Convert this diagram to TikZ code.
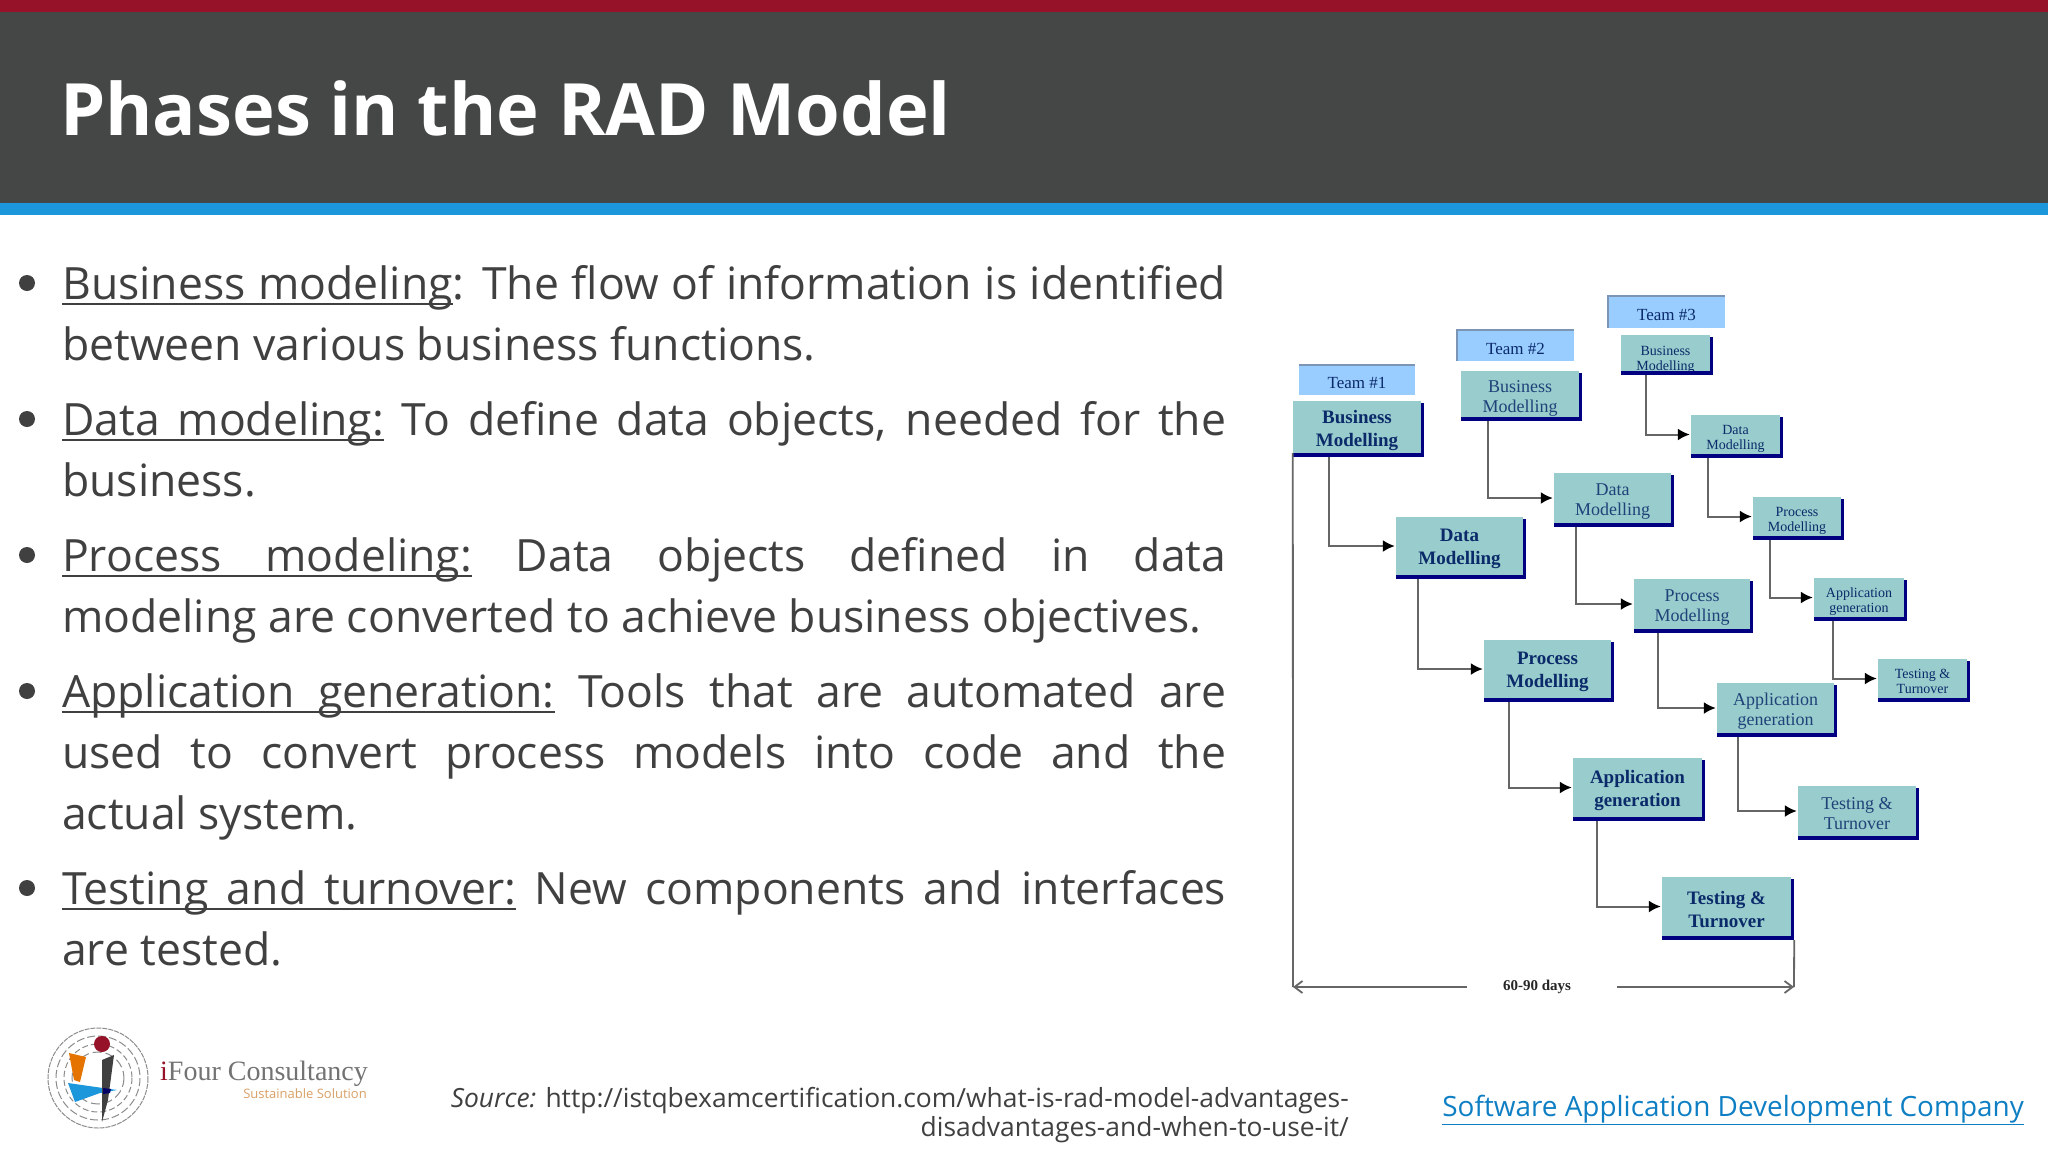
\documentclass[tikz,border=0pt]{standalone}
\usepackage{fontspec}
\setmainfont{Open Sans}
\newfontfamily\dgfont{Liberation Serif}
\usetikzlibrary{arrows.meta}
\definecolor{barred}{HTML}{961228}
\definecolor{headgray}{HTML}{454747}
\definecolor{barblue}{HTML}{1C97DC}
\definecolor{bodygray}{HTML}{404040}
\definecolor{linkblue}{HTML}{0F7FC4}
\definecolor{teamblue}{HTML}{99CCFF}
\definecolor{teamedge}{HTML}{7C95B5}
\definecolor{boxteal}{HTML}{99CCCC}
\definecolor{boxnavy}{HTML}{000080}
\definecolor{dgtext}{HTML}{0A2A6A}
\definecolor{logotan}{HTML}{D9A066}
\newcommand{\uw}[1]{\leavevmode\setbox0\hbox{#1}\rlap{\rule[-6pt]{\wd0}{2pt}}\box0\relax}
\newcommand{\usp}{\leaders\hrule height -4pt depth 6pt\hskip\fontdimen2\font plus\fontdimen3\font minus\fontdimen4\font\relax}
\newcommand{\bx}[8][3]{% text drop, name, x1, y1, x2, y2, style, text
  \path[#7] (#3,#4) rectangle (#5,#6);
  \node[inner sep=0,minimum width={(#5)-(#3)},minimum height={(#6)-(#4)}] (#2) at ({(#3+#5)/2},{(#4+#6)/2}) {};
  \node[#7 text] (#2txt) at ([yshift=-#1pt]#2.center) {#8};
}
\tikzset{
  x=1pt,y=-1pt,
  teambox/.style={fill=teamblue},
  teambox text/.style={inner sep=0,align=center,text=dgtext,font=\dgfont\fontsize{17}{20}\selectfont},
  big/.style={fill=boxteal,draw=none},
  big text/.style={inner sep=0,align=center,text=dgtext,font=\dgfont\bfseries\fontsize{19}{23}\selectfont},
  mid/.style={fill=boxteal,draw=none},
  mid text/.style={inner sep=0,align=center,text=dgtext!85!boxteal,font=\dgfont\fontsize{18}{20}\selectfont},
  small/.style={fill=boxteal,draw=none},
  small text/.style={inner sep=0,align=center,text=dgtext,font=\dgfont\fontsize{14}{15}\selectfont},
  link/.style={draw=black!60,line width=2pt,-{Latex[length=12pt,width=12pt,black]},shorten >=1pt},
  span/.style={draw=black!60,line width=1.8pt},
  item/.style={anchor=north west,inner sep=0,text width=1164pt,align=justify,text=bodygray,
    font=\fontsize{44.5}{61.4}\selectfont},
  maze/.style={black!45,line width=1pt},
  edge/.style={teamedge,line width=1.4pt},
}
\newcommand{\navy}[2]{\fill[boxnavy] (#1.north east) ++(0,2) rectangle ([xshift=3pt]#1.south east);
  \fill[boxnavy] (#1.south west) rectangle ([xshift=3pt,yshift=-4pt]#1.south east);}
\begin{document}
\begin{tikzpicture}
\useasboundingbox (0,0) rectangle (2048,1152);
\fill[white] (0,0) rectangle (2048,1152);
\fill[headgray] (0,12) rectangle (2048,203);
\fill[barred] (0,0) rectangle (2048,12);
\fill[barblue] (0,203) rectangle (2048,215);
\node[anchor=base west,inner sep=0,text=white,font=\bfseries\fontsize{72.2}{80}\selectfont] (title) at (60,135) {Phases in the RAD Model};
% bullets
\foreach \yy in {283,419,555,691,888} \fill[bodygray] (27,\yy) circle (8);
\node[item] (i1) at (62,265) {\uw{Business}\usp\uw{modeling}: The flow of information is identified\linebreak between various business functions.};
\node[item] (i2) at (62,401) {\uw{Data}\usp\uw{modeling:} To define data objects, needed for the\linebreak business.};
\node[item] (i3) at (62,537) {\uw{Process}\usp\uw{modeling:} Data objects defined in data\linebreak modeling are converted to achieve business objectives.};
\node[item] (i4) at (62,673) {\uw{Application}\usp\uw{generation:} Tools that are automated are\linebreak used to convert process models into code and the\linebreak actual system.};
\node[item] (i5) at (62,870) {\uw{Testing}\usp\uw{and}\usp\uw{turnover:} New components and interfaces\linebreak are tested.};
% team labels
\bx{t1}{1299}{365}{1415}{395}{teambox}{Team \#1}
\bx{t2}{1457}{330}{1574}{361}{teambox}{Team \#2}
\bx{t3}{1608}{296}{1725}{328}{teambox}{Team \#3}
\draw[edge] (t1.north west) -- (t1.north east);
\draw[edge] (t2.south west) -- (t2.north west) -- (t2.north east);
\draw[edge] (t3.south west) -- (t3.north west) -- (t3.north east);
% team 1
\bx{a1}{1293}{401}{1421}{453}{big}{Business\\Modelling}
\bx{a2}{1396}{517}{1523}{575}{big}{Data\\Modelling}
\bx{a3}{1484}{640}{1611}{698}{big}{Process\\Modelling}
\bx{a4}{1573}{758}{1702}{817}{big}{Application\\generation}
\bx{a5}{1662}{877}{1791}{936}{big}{Testing \&\\Turnover}
% team 2
\bx[4]{b1}{1461}{371}{1579}{417}{mid}{Business\\Modelling}
\bx[4]{b2}{1554}{473}{1671}{523}{mid}{Data\\Modelling}
\bx[4]{b3}{1634}{579}{1750}{629}{mid}{Process\\Modelling}
\bx[3]{b4}{1717}{683}{1834}{733}{mid}{Application\\generation}
\bx[3]{b5}{1798}{786}{1916}{836}{mid}{Testing \&\\Turnover}
% team 3
\bx[7]{c1}{1621}{335}{1710}{371}{small}{Business\\Modelling}
\bx[4]{c2}{1691}{415}{1780}{454}{small}{Data\\Modelling}
\bx[4]{c3}{1753}{497}{1841}{536}{small}{Process\\Modelling}
\bx[4]{c4}{1814}{578}{1904}{617}{small}{Application\\generation}
\bx[3]{c5}{1878}{659}{1967}{698}{small}{Testing \&\\Turnover}
\foreach \n in {a1,a2,a3,a4,a5,b1,b2,b3,b4,b5,c1,c2,c3,c4,c5}{\navy{\n}{}}
% connectors
\draw[link] ([xshift=36pt,yshift=-4pt]a1.south west) |- (a2.west);
\draw[link] ([xshift=22pt,yshift=-4pt]a2.south west) |- (a3.west);
\draw[link] ([xshift=25pt,yshift=-4pt]a3.south west) |- (a4.west);
\draw[link] ([xshift=24pt,yshift=-4pt]a4.south west) |- (a5.west);
\draw[link] ([xshift=27pt,yshift=-4pt]b1.south west) |- (b2.west);
\draw[link] ([xshift=22pt,yshift=-4pt]b2.south west) |- (b3.west);
\draw[link] ([xshift=24pt,yshift=-4pt]b3.south west) |- (b4.west);
\draw[link] ([xshift=21pt,yshift=-4pt]b4.south west) |- (b5.west);
\draw[link] ([xshift=25pt,yshift=-4pt]c1.south west) |- (c2.west);
\draw[link] ([xshift=17pt,yshift=-4pt]c2.south west) |- (c3.west);
\draw[link] ([xshift=17pt,yshift=-4pt]c3.south west) |- (c4.west);
\draw[link] ([xshift=19pt,yshift=-4pt]c4.south west) |- (c5.west);
% span
\coordinate (sl) at (1293,987);
\coordinate (sr) at (1794,987);
\node[inner sep=0,text=black!85,font=\dgfont\bfseries\fontsize{15}{18}\selectfont] (days) at (1537,987) {60-90 days};
\draw[span] (a1.south west) -- (sl);
\draw[span] ([xshift=3pt,yshift=-4pt]a5.south east) -- (sr);
\draw[span,-{Straight Barb[length=8pt,width=12pt]}] ([xshift=-36pt]days.west) -- (sl);
\draw[span,-{Straight Barb[length=8pt,width=12pt]}] ([xshift=46pt]days.east) -- (sr);
% logo
\coordinate (lg) at (98,1078);
\draw[maze,dash pattern=on 5pt off 1pt] (lg) circle (50);
\draw[maze,dash pattern=on 8pt off 3pt] (lg) circle (42);
\draw[maze,dash pattern=on 6pt off 3pt] (lg) circle (34);
\draw[maze,dash pattern=on 9pt off 4pt] (lg) circle (26);
\fill[orange!90!black] (69,1053) -- (86,1057) -- (80,1082) -- (74,1080) -- cycle;
\fill[barblue] (68,1083) -- (117,1090) -- (100,1093) -- (75,1102) -- cycle;
\fill[black!75] (102,1060) -- (114,1055) -- (108,1100) -- (102,1122) -- cycle;
\fill[boxnavy!80!black] (103,1088) -- (111,1089) -- (110,1093) -- (103,1094) -- cycle;
\fill[barred] (102,1044) circle (8);
\node[anchor=base west,inner sep=0,text=black!55,font=\dgfont\fontsize{28}{32}\selectfont] (brand) at (160,1080) {\textcolor{barred}{i}Four Consultancy};
\node[anchor=base east,inner sep=0,text=logotan,font=\fontsize{13}{16}\selectfont] (slogan) at (367,1098) {Sustainable Solution};
% source and link
\node[anchor=north east,inner sep=0,align=right,text=bodygray,font=\fontsize{26.4}{29}\selectfont] (src) at (1349,1087) {\textit{Source:} http://istqbexamcertification.com/what-is-rad-model-advantages-\\disadvantages-and-when-to-use-it/};
\node[anchor=base east,inner sep=0,text=linkblue,font=\fontsize{27.9}{34}\selectfont] (web) at (2024,1116) {\underline{Software Application Development Company}};
\end{tikzpicture}
\end{document}
